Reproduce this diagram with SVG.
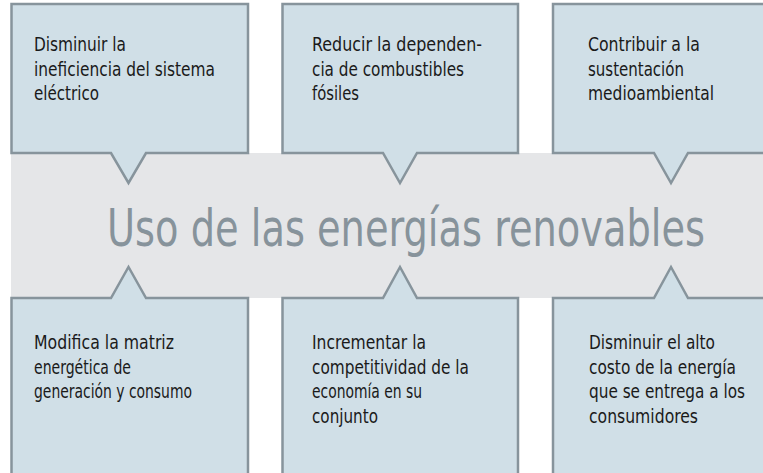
<svg xmlns="http://www.w3.org/2000/svg" width="763" height="473" viewBox="0 0 763 473">
<style>
.box{fill:#d0dfe7;stroke:#87949c;stroke-width:2.5;stroke-linejoin:miter}
.band{fill:#e5e6e8}
.t{font-family:"Liberation Sans Narrow","DejaVu Sans Condensed","Liberation Sans",sans-serif;font-stretch:condensed;font-size:20px;fill:#1a1a1a}
.title{font-family:"Liberation Sans Narrow","DejaVu Sans Condensed","Liberation Sans",sans-serif;font-stretch:condensed;font-size:52px;fill:#87939b}
</style>
<rect width="763" height="473" fill="#ffffff"/>
<g id="center">
<rect class="band" x="11" y="153" width="752" height="145"/>
<text class="title" x="107" y="246" textLength="598" lengthAdjust="spacingAndGlyphs">Uso de las energías renovables</text>
</g>
<g id="connectors"></g>
<g id="box1">
<path class="box" d="M11.5,4 H248 V153 H146 L128.5,183 L111,153 H11.5 Z"/>
<text class="t" x="34" y="51" textLength="92" lengthAdjust="spacingAndGlyphs">Disminuir la</text>
<text class="t" x="34" y="75.5" textLength="181" lengthAdjust="spacingAndGlyphs">ineficiencia del sistema</text>
<text class="t" x="34" y="100" textLength="65" lengthAdjust="spacingAndGlyphs">eléctrico</text>
</g>
<g id="box2">
<path class="box" d="M282.5,4 H518 V153 H417 L400,183 L383,153 H282.5 Z"/>
<text class="t" x="312" y="51" textLength="170" lengthAdjust="spacingAndGlyphs">Reducir la dependen-</text>
<text class="t" x="312" y="75.5" textLength="152" lengthAdjust="spacingAndGlyphs">cia de combustibles</text>
<text class="t" x="312" y="100" textLength="47" lengthAdjust="spacingAndGlyphs">fósiles</text>
</g>
<g id="box3">
<path class="box" d="M553,4 H770 V153 H688 L671,183 L654,153 H553 Z"/>
<text class="t" x="588" y="51" textLength="112" lengthAdjust="spacingAndGlyphs">Contribuir a la</text>
<text class="t" x="588" y="75.5" textLength="96" lengthAdjust="spacingAndGlyphs">sustentación</text>
<text class="t" x="588" y="100" textLength="126" lengthAdjust="spacingAndGlyphs">medioambiental</text>
</g>
<g id="box4">
<path class="box" d="M11.5,480 V298 H111 L128.5,267 L146,298 H248 V480"/>
<text class="t" x="34" y="349" textLength="140" lengthAdjust="spacingAndGlyphs">Modifica la matriz</text>
<text class="t" x="34" y="373.5" textLength="97" lengthAdjust="spacingAndGlyphs">energética de</text>
<text class="t" x="34" y="398" textLength="158" lengthAdjust="spacingAndGlyphs">generación y consumo</text>
</g>
<g id="box5">
<path class="box" d="M282.5,480 V298 H383 L400,267 L417,298 H518 V480"/>
<text class="t" x="312" y="349" textLength="114" lengthAdjust="spacingAndGlyphs">Incrementar la</text>
<text class="t" x="312" y="373.5" textLength="157" lengthAdjust="spacingAndGlyphs">competitividad de la</text>
<text class="t" x="312" y="398" textLength="110" lengthAdjust="spacingAndGlyphs">economía en su</text>
<text class="t" x="312" y="422.5" textLength="66" lengthAdjust="spacingAndGlyphs">conjunto</text>
</g>
<g id="box6">
<path class="box" d="M553,480 V298 H654 L671,267 L688,298 H770 V480"/>
<text class="t" x="589" y="349" textLength="126" lengthAdjust="spacingAndGlyphs">Disminuir el alto</text>
<text class="t" x="589" y="373.5" textLength="147" lengthAdjust="spacingAndGlyphs">costo de la energía</text>
<text class="t" x="589" y="398" textLength="156" lengthAdjust="spacingAndGlyphs">que se entrega a los</text>
<text class="t" x="589" y="422.5" textLength="109" lengthAdjust="spacingAndGlyphs">consumidores</text>
</g>
</svg>
